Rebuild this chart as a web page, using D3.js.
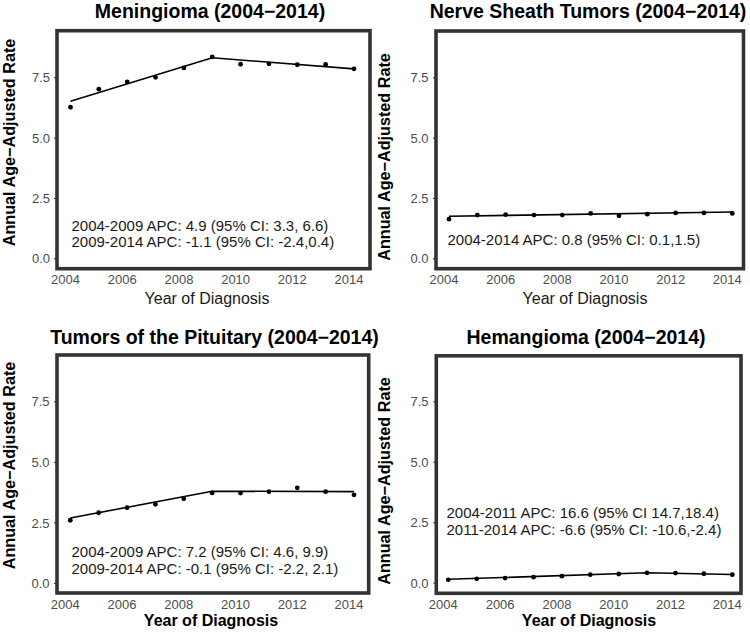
<!DOCTYPE html>
<html><head><meta charset="utf-8">
<script src="https://cdn.jsdelivr.net/npm/d3@7"></script>
<style>
html,body{margin:0;padding:0;background:#fff;}
svg{display:block;font-family:"Liberation Sans",Arial,Helvetica,sans-serif;}
</style></head>
<body>
<svg id="chart" width="750" height="634"></svg>
<script>
// ---------- DATA ----------
const years = [2004, 2005, 2006, 2007, 2008, 2009, 2010, 2011, 2012, 2013, 2014];
const meningioma  = [6.26, 7.01, 7.31, 7.50, 7.89, 8.35, 8.04, 8.06, 8.02, 8.03, 7.85];
const nerveSheath = [1.62, 1.79, 1.81, 1.79, 1.79, 1.86, 1.76, 1.83, 1.88, 1.88, 1.86];
const pituitary   = [2.59, 2.90, 3.11, 3.25, 3.48, 3.72, 3.71, 3.77, 3.93, 3.77, 3.64];
const hemangioma  = [0.12, 0.16, 0.19, 0.23, 0.27, 0.33, 0.36, 0.41, 0.40, 0.37, 0.33];

// joinpoint fitted segments (year, fitted rate)
const meningiomaFitYears = [2004, 2009, 2014];
const meningiomaFit      = [6.51, 8.31, 7.85];
const nerveSheathFitYears = [2004, 2014];
const nerveSheathFit      = [1.74, 1.92];
const pituitaryFitYears = [2004, 2009, 2014];
const pituitaryFit      = [2.68, 3.79, 3.77];
const hemangiomaFitYears = [2004, 2011, 2014];
const hemangiomaFit      = [0.14, 0.41, 0.34];

const titles = ["Meningioma (2004\u22122014)", "Nerve Sheath Tumors (2004\u22122014)",
                "Tumors of the Pituitary (2004\u22122014)", "Hemangioma (2004\u22122014)"];
const meningiomaNotes  = ["2004-2009 APC: 4.9 (95% CI: 3.3, 6.6)", "2009-2014 APC: -1.1 (95% CI: -2.4,0.4)"];
const nerveSheathNotes = ["2004-2014 APC: 0.8 (95% CI: 0.1,1.5)"];
const pituitaryNotes   = ["2004-2009 APC: 7.2 (95% CI: 4.6, 9.9)", "2009-2014 APC: -0.1 (95% CI: -2.2, 2.1)"];
const hemangiomaNotes  = ["2004-2011 APC: 16.6 (95% CI 14.7,18.4)", "2011-2014 APC: -6.6 (95% CI: -10.6,-2.4)"];

const xTicks = [2004, 2006, 2008, 2010, 2012, 2014];
const yTicks = [0, 2.5, 5, 7.5];
const yTitle = "Annual Age\u2212Adjusted Rate";
const xTitle = "Year of Diagnosis";

// ---------- LAYOUT ----------
const panels = [
  {values: meningioma, fitX: meningiomaFitYears, fitY: meningiomaFit, notes: meningiomaNotes, title: titles[0],
   frame: [57, 370, 30.7, 268.7], x: [70.5, 354], y0: 258.3, y75: 77.3,
   titleX: 210, titleY: 18, yTitleX: 15, yTitleY: 142.5, ytickRight: 50, xlabY: 284, xTitleX: 207, xTitleY: 304, xTitleBold: false,
   noteX: 71.5, noteY: [230.5, 247]},
  {values: nerveSheath, fitX: nerveSheathFitYears, fitY: nerveSheathFit, notes: nerveSheathNotes, title: titles[1],
   frame: [436, 743.5, 31, 268.7], x: [449, 732.3], y0: 258.3, y75: 77.3,
   titleX: 588, titleY: 18, yTitleX: 390, yTitleY: 157, ytickRight: 428.5, xlabY: 284, xTitleX: 585, xTitleY: 304, xTitleBold: false,
   noteX: 447.5, noteY: [245]},
  {values: pituitary, fitX: pituitaryFitYears, fitY: pituitaryFit, notes: pituitaryNotes, title: titles[2],
   frame: [57, 368.7, 355, 593], x: [70.3, 354], y0: 583, y75: 401.3,
   titleX: 214.5, titleY: 343.5, yTitleX: 15, yTitleY: 465.5, ytickRight: 49.5, xlabY: 608.5, xTitleX: 211, xTitleY: 626, xTitleBold: true,
   noteX: 71.5, noteY: [557, 573.5]},
  {values: hemangioma, fitX: hemangiomaFitYears, fitY: hemangiomaFit, notes: hemangiomaNotes, title: titles[3],
   frame: [436.3, 741, 355.8, 593.3], x: [448.3, 732.3], y0: 582.7, y75: 401.3,
   titleX: 586, titleY: 343.5, yTitleX: 390, yTitleY: 481, ytickRight: 428.5, xlabY: 608.5, xTitleX: 589, xTitleY: 626, xTitleBold: true,
   noteX: 446.5, noteY: [518, 534.5]}
];

const svg = d3.select("#chart");

panels.forEach(p => {
  const g = svg.append("g");
  const x = d3.scaleLinear().domain([years[0], years[years.length - 1]]).range(p.x);
  const y = d3.scaleLinear().domain([0, 7.5]).range([p.y0, p.y75]);

  // y axis (ticks + labels)
  const yAxis = d3.axisLeft(y).tickValues(yTicks).tickFormat(d3.format(".1f")).tickSize(3).tickPadding(2);
  const ya = g.append("g").attr("transform", `translate(${p.frame[0]},0)`).call(yAxis);
  ya.select(".domain").remove();
  ya.selectAll("line").attr("stroke", "#333").attr("stroke-width", 1.1);
  ya.selectAll("text").attr("fill", "#4d4d4d").style("font-size", "13px")
    .attr("x", p.ytickRight - p.frame[0]).attr("dy", "0.36em");

  // x axis labels (no visible tick marks; labels slightly shifted as in the source)
  const xAxis = d3.axisBottom(x).tickValues(xTicks).tickFormat(d3.format("d")).tickSize(0).tickPadding(0);
  const xa = g.append("g").attr("transform", `translate(-5.5,${p.xlabY})`).call(xAxis);
  xa.select(".domain").remove();
  xa.selectAll("text").attr("fill", "#4d4d4d").style("font-size", "13px").attr("y", 0).attr("dy", 0);

  // fitted line
  const line = d3.line().x(d => x(d[0])).y(d => y(d[1]));
  g.append("path").datum(p.fitX.map((yr, i) => [yr, p.fitY[i]]))
    .attr("d", line).attr("fill", "none").attr("stroke", "#000").attr("stroke-width", 1.6);

  // points
  g.selectAll("circle").data(p.values).enter().append("circle")
    .attr("cx", (d, i) => x(years[i])).attr("cy", d => y(d)).attr("r", 2.4).attr("fill", "#000");

  // annotations
  p.notes.forEach((t, i) => {
    g.append("text").attr("x", p.noteX).attr("y", p.noteY[i]).text(t)
      .attr("fill", "#1a1a1a").style("font-size", "15px");
  });

  // frame
  g.append("rect").attr("x", p.frame[0]).attr("y", p.frame[2])
    .attr("width", p.frame[1] - p.frame[0]).attr("height", p.frame[3] - p.frame[2])
    .attr("fill", "none").attr("stroke", "#333").attr("stroke-width", 3.6);

  // titles
  g.append("text").attr("x", p.titleX).attr("y", p.titleY).attr("text-anchor", "middle")
    .style("font-size", "19.5px").style("font-weight", "bold").attr("fill", "#000").text(p.title);
  g.append("text").attr("transform", `translate(${p.yTitleX},${p.yTitleY}) rotate(-90)`)
    .attr("text-anchor", "middle").style("font-size", "16.2px").style("font-weight", "bold")
    .attr("fill", "#000").text(yTitle);
  g.append("text").attr("x", p.xTitleX).attr("y", p.xTitleY).attr("text-anchor", "middle")
    .style("font-size", "16px").style("font-weight", p.xTitleBold ? "bold" : "normal")
    .attr("fill", p.xTitleBold ? "#000" : "#1a1a1a").text(xTitle);
});
</script>
</body></html>
